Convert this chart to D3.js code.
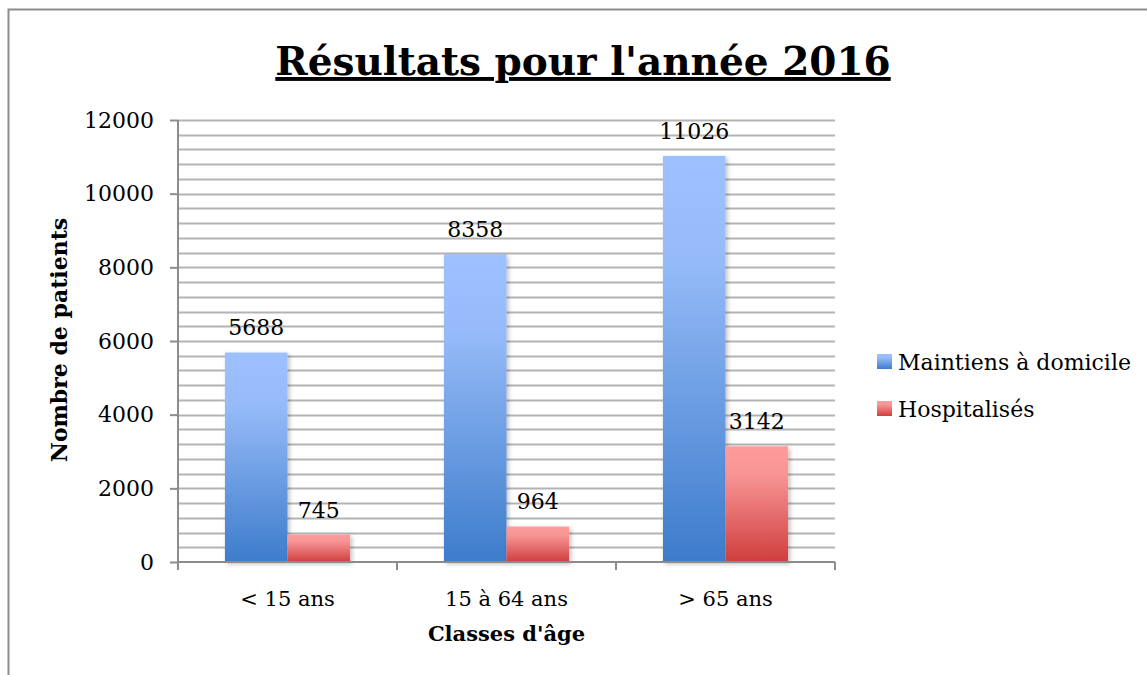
<!DOCTYPE html>
<html>
<head>
<meta charset="utf-8">
<script src="https://cdn.jsdelivr.net/npm/d3@7"></script>
<style>
  body { margin: 0; background: #fff; }
  text { font-family: "DejaVu Serif", "Liberation Serif", serif; }
</style>
</head>
<body>
<svg id="chart" width="1147" height="675"></svg>
<script>
// data
const categories = ["< 15 ans", "15 à 64 ans", "> 65 ans"]
const seriesNames = ["Maintiens à domicile", "Hospitalisés"]
const maintiens = [5688, 8358, 11026]
const hospitalises = [745, 964, 3142]
const yTicks = [0, 2000, 4000, 6000, 8000, 10000, 12000]

const svg = d3.select("#chart")
const W = 1147, H = 675
const margins = { left: 178, top: 120, right: 312, bottom: 113 }
const innerW = W - margins.left - margins.right
const innerH = H - margins.top - margins.bottom

// frame
svg.append("rect")
    .attr("x", 8.5).attr("y", 9.5)
    .attr("width", 1160).attr("height", 700)
    .attr("fill", "none").attr("stroke", "#8c8c8c").attr("stroke-width", 2)

const defs = svg.append("defs")

/**
 * gradients, one per series
 */
const gradBlue = defs.append("linearGradient").attr("id", "gBlue")
    .attr("x1", 0).attr("y1", 0).attr("x2", 0).attr("y2", 1)
gradBlue.append("stop").attr("offset", "0%").attr("stop-color", "#9dc1ff")
gradBlue.append("stop").attr("offset", "25%").attr("stop-color", "#96bbf8")
gradBlue.append("stop").attr("offset", "100%").attr("stop-color", "#3d7ccb")

const gradRed = defs.append("linearGradient").attr("id", "gRed")
    .attr("x1", 0).attr("y1", 0).attr("x2", 0).attr("y2", 1)
gradRed.append("stop").attr("offset", "0%").attr("stop-color", "#ff9b9b")
gradRed.append("stop").attr("offset", "25%").attr("stop-color", "#f79494")
gradRed.append("stop").attr("offset", "100%").attr("stop-color", "#d03e3e")

const shadow = defs.append("filter").attr("id", "shadow")
    .attr("x", "-10%").attr("y", "-10%").attr("width", "130%").attr("height", "130%")
shadow.append("feDropShadow")
    .attr("dx", 2).attr("dy", 2).attr("stdDeviation", 2)
    .attr("flood-color", "#000").attr("flood-opacity", 0.25)

const g = svg.append("g").attr("transform", `translate(${margins.left},${margins.top})`)

const y = d3.scaleLinear().domain([0, 12000]).range([innerH, 0])
const x0 = d3.scaleBand().domain(categories).range([0, innerW]).paddingInner(0).paddingOuter(0)
const bw = x0.bandwidth() / 3.5

// gridlines every 400
const gridVals = d3.range(400, 12001, 400)
g.append("g").selectAll("line").data(gridVals).join("line")
    .attr("x1", 0).attr("x2", innerW)
    .attr("y1", d => Math.round(y(d)) + 0.5).attr("y2", d => Math.round(y(d)) + 0.5)
    .attr("stroke", "#b3b3b3").attr("stroke-width", 2)

// y axis
const yAxis = g.append("g")
    .call(d3.axisLeft(y).tickValues(yTicks).tickSize(8).tickPadding(16).tickFormat(d3.format("d")))
yAxis.select(".domain").attr("stroke", "#8c8c8c").attr("stroke-width", 2)
    .attr("d", `M0,${innerH}V0`)
yAxis.selectAll(".tick line").attr("stroke", "#8c8c8c").attr("stroke-width", 2)
yAxis.selectAll(".tick text")
    .attr("font-family", "DejaVu Serif").attr("font-size", 22).attr("fill", "#000")

// bars
const groups = g.append("g").selectAll("g").data(categories).join("g")
    .attr("transform", d => `translate(${x0(d) + bw * 0.75},0)`)

groups.append("rect")
    .attr("x", 0).attr("width", bw)
    .attr("y", (d, i) => y(maintiens[i])).attr("height", (d, i) => innerH - y(maintiens[i]))
    .attr("fill", "url(#gBlue)").attr("filter", "url(#shadow)")
groups.append("rect")
    .attr("x", bw).attr("width", bw)
    .attr("y", (d, i) => y(hospitalises[i])).attr("height", (d, i) => innerH - y(hospitalises[i]))
    .attr("fill", "url(#gRed)").attr("filter", "url(#shadow)")

// value labels
groups.append("text")
    .attr("x", bw / 2).attr("y", (d, i) => y(maintiens[i]) - 17)
    .attr("text-anchor", "middle").attr("font-size", 22)
    .text((d, i) => maintiens[i])
groups.append("text")
    .attr("x", bw * 1.5).attr("y", (d, i) => y(hospitalises[i]) - 17)
    .attr("text-anchor", "middle").attr("font-size", 22)
    .text((d, i) => hospitalises[i])

// x axis
const xAxis = g.append("g").attr("transform", `translate(0,${innerH})`)
    .call(d3.axisBottom(x0).tickSize(0).tickPadding(29))
xAxis.select(".domain").attr("stroke", "#8c8c8c").attr("stroke-width", 2)
    .attr("d", `M0,0H${innerW}`)
xAxis.selectAll(".tick text")
    .attr("font-family", "DejaVu Serif").attr("font-size", 21).attr("fill", "#000")
g.append("g").selectAll("line").data(d3.range(0, categories.length + 1)).join("line")
    .attr("x1", d => d * x0.bandwidth()).attr("x2", d => d * x0.bandwidth())
    .attr("y1", innerH).attr("y2", innerH + 8)
    .attr("stroke", "#8c8c8c").attr("stroke-width", 2)

// titles
svg.append("text")
    .attr("x", 583).attr("y", 75)
    .attr("text-anchor", "middle").attr("font-size", 39).attr("font-weight", "bold")
    .attr("text-decoration", "underline")
    .text("Résultats pour l'année 2016")

svg.append("text")
    .attr("x", margins.left + innerW / 2).attr("y", 641)
    .attr("text-anchor", "middle").attr("font-size", 21).attr("font-weight", "bold")
    .text("Classes d'âge")

svg.append("text")
    .attr("transform", `translate(67,${margins.top + innerH / 2 - 1}) rotate(-90)`)
    .attr("text-anchor", "middle").attr("font-size", 22).attr("font-weight", "bold")
    .text("Nombre de patients")

// legend
const legend = svg.append("g").attr("transform", "translate(877,354)")
const legendFills = ["url(#gBlue)", "url(#gRed)"]
const items = legend.selectAll("g").data(seriesNames).join("g")
    .attr("transform", (d, i) => `translate(0,${i * 47})`)
items.append("rect").attr("width", 15).attr("height", 15)
    .attr("fill", (d, i) => legendFills[i])
items.append("text").attr("x", 21).attr("y", 16)
    .attr("font-size", 22).text(d => d)
</script>
</body>
</html>
